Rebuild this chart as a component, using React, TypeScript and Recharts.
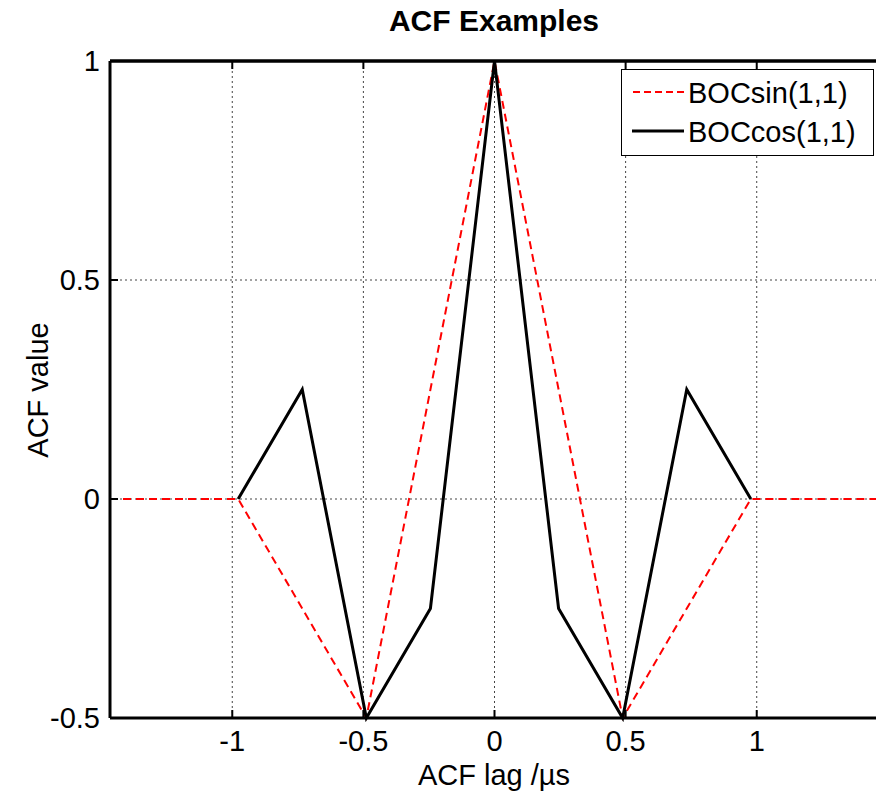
import { LineChart, Line, XAxis, YAxis, CartesianGrid, Label, ReferenceLine } from 'recharts';

const CHIP = 1 / 1.023;
const lags = [-1.5, -1, -0.75, -0.5, -0.25, 0, 0.25, 0.5, 0.75, 1, 1.5].map((c) => c * CHIP);
const bocSin = [0, 0, -0.25, -0.5, 0.25, 1, 0.25, -0.5, -0.25, 0, 0];
const bocCos = [null, 0, 0.25, -0.5, -0.25, 1, -0.25, -0.5, 0.25, 0, null];
const xTicks = [-1, -0.5, 0, 0.5, 1];
const yTicks = [-0.5, 0, 0.5, 1];

const data = lags.map((x, i) => ({ x, sin: bocSin[i], cos: bocCos[i] }));

const FONT = '"Liberation Sans", Arial, sans-serif';

const LegendBox = () => (
  <div style={{ position: 'absolute', top: 69, left: 621, width: 253, height: 87, border: '1px solid #000', background: '#fff', boxSizing: 'border-box' }}>
    <svg width={251} height={85}>
      <line x1={11} x2={62} y1={22} y2={22} stroke="#ff0000" strokeWidth={2} strokeDasharray="7 4" />
      <text x={66} y={33} fontSize={29} fontFamily={FONT}>BOCsin(1,1)</text>
      <line x1={10} x2={62} y1={61} y2={61} stroke="#000" strokeWidth={3} />
      <text x={66} y={72} fontSize={29} fontFamily={FONT}>BOCcos(1,1)</text>
    </svg>
  </div>
);

const App = () => {
  return (
    <div style={{ position: 'fixed', top: 0, left: 0, width: 876, height: 797, overflow: 'hidden', background: '#fff' }}>
      <div style={{ position: 'absolute', top: 4, left: 0, width: 988, textAlign: 'center', fontFamily: FONT, fontWeight: 'bold', fontSize: 30 }}>
        ACF Examples
      </div>
      <LineChart width={882} height={797} data={data} margin={{ top: 60, right: 3, bottom: 0, left: 0 }}>
        <CartesianGrid stroke="#444" strokeDasharray="2 3" strokeWidth={1} />
        <XAxis
          dataKey="x"
          type="number"
          domain={[-1.5 * CHIP, 1.5 * CHIP]}
          allowDataOverflow
          ticks={xTicks}
          height={79}
          tickSize={-8}
          tickMargin={20}
          axisLine={{ stroke: '#000', strokeWidth: 3 }}
          tickLine={{ stroke: '#000', strokeWidth: 2 }}
          tick={{ fill: '#000', fontSize: 29, fontFamily: FONT }}
        >
          <Label
            content={() => (
              <text x={494} y={785} textAnchor="middle" fontSize={29} fontFamily={FONT}>
                ACF lag /µs
              </text>
            )}
          />
        </XAxis>
        <XAxis
          xAxisId="top"
          orientation="top"
          dataKey="x"
          type="number"
          domain={[-1.5 * CHIP, 1.5 * CHIP]}
          allowDataOverflow
          ticks={xTicks}
          height={1}
          tickSize={-8}
          tickFormatter={() => ''}
          axisLine={{ stroke: '#000', strokeWidth: 3 }}
          tickLine={{ stroke: '#000', strokeWidth: 2 }}
        />
        <YAxis
          type="number"
          domain={[-0.5, 1]}
          ticks={yTicks}
          width={110}
          tickSize={-8}
          tickMargin={18}
          axisLine={{ stroke: '#000', strokeWidth: 3 }}
          tickLine={{ stroke: '#000', strokeWidth: 2 }}
          tick={{ fill: '#000', fontSize: 29, fontFamily: FONT }}
        >
          <Label
            content={() => (
              <text x={48} y={390} transform="rotate(-90 48 390)" textAnchor="middle" fontSize={29} fontFamily={FONT}>
                ACF value
              </text>
            )}
          />
        </YAxis>
        <ReferenceLine y={1} stroke="#000" strokeWidth={3} />
        <Line
          dataKey="sin"
          name="BOCsin(1,1)"
          stroke="#ff0000"
          strokeWidth={2}
          strokeDasharray="8 5"
          dot={false}
          isAnimationActive={false}
        />
        <Line
          dataKey="cos"
          name="BOCcos(1,1)"
          stroke="#000"
          strokeWidth={3}
          dot={false}
          connectNulls={false}
          isAnimationActive={false}
        />
      </LineChart>
      <LegendBox />
    </div>
  );
};

export default App;
